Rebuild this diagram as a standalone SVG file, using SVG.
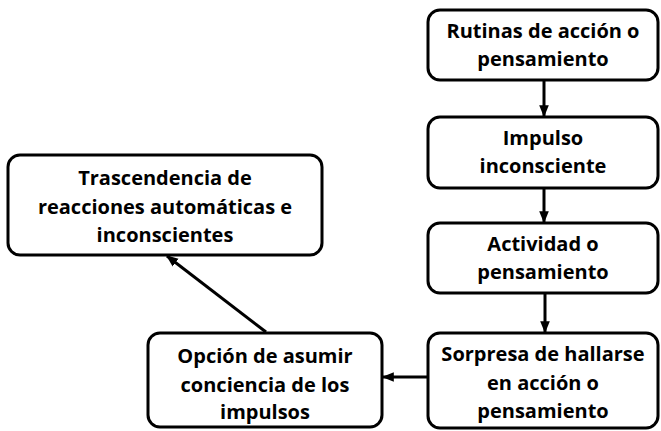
<svg xmlns="http://www.w3.org/2000/svg" width="661" height="431" viewBox="0 0 661 431">
<defs>
<style>
.box{fill:#fff;stroke:#000;stroke-width:3}
.t{font-family:"Open Sans","Noto Sans",sans-serif;font-weight:bold;font-size:20px;fill:#000;text-anchor:middle}
.c{stroke:#000;stroke-width:3;fill:none;marker-end:url(#ah)}
</style>
<marker id="ah" viewBox="0 0 10 10" refX="9" refY="5" markerWidth="4" markerHeight="4" orient="auto" markerUnits="strokeWidth">
<path d="M0,1 L10,5 L0,9 z" fill="#000"/>
</marker>
</defs>
<rect width="661" height="431" fill="#fff"/>
<g id="connectors">
<line class="c" x1="544" y1="80" x2="544" y2="116"/>
<line class="c" x1="544" y1="188" x2="544" y2="222"/>
<line class="c" x1="545" y1="293" x2="545" y2="332"/>
<line class="c" x1="428" y1="377" x2="383" y2="377"/>
<line class="c" x1="266" y1="332" x2="167" y2="256"/>
</g>
<g id="n1"><rect class="box" x="428" y="10" width="230" height="70" rx="12"/>
<text class="t" x="543" y="38">Rutinas de acción o</text><text class="t" x="543" y="66">pensamiento</text></g>
<g id="n2"><rect class="box" x="428" y="117" width="230" height="71" rx="12"/>
<text class="t" x="543" y="145">Impulso</text><text class="t" x="543" y="173">inconsciente</text></g>
<g id="n3"><rect class="box" x="428" y="223" width="230" height="70" rx="12"/>
<text class="t" x="543" y="251">Actividad o</text><text class="t" x="543" y="279">pensamiento</text></g>
<g id="n4"><rect class="box" x="428" y="333" width="230" height="95" rx="12"/>
<text class="t" x="543" y="361">Sorpresa de hallarse</text><text class="t" x="543" y="390">en acción o</text><text class="t" x="543" y="418">pensamiento</text></g>
<g id="n5"><rect class="box" x="148" y="333" width="234" height="94" rx="12"/>
<text class="t" x="265" y="363">Opción de asumir</text><text class="t" x="265" y="392">conciencia de los</text><text class="t" x="265" y="419">impulsos</text></g>
<g id="n6"><rect class="box" x="8" y="155" width="314" height="100" rx="12"/>
<text class="t" x="165" y="185">Trascendencia de</text><text class="t" x="165" y="214">reacciones automáticas e</text><text class="t" x="165" y="242">inconscientes</text></g>
</svg>
